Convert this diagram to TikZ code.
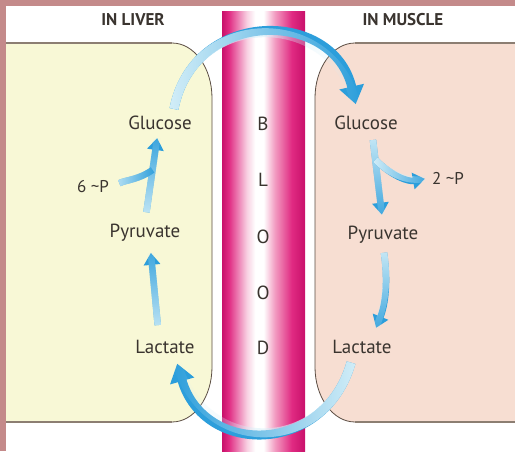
\documentclass[tikz,border=0pt]{standalone}
\usepackage{fontspec}
\setmainfont{PT Sans}
\usepackage{tikz}
\usetikzlibrary{arrows.meta,positioning,fadings,calc}
\definecolor{CoriFrame}{HTML}{C48A8A}
\definecolor{CoriLiver}{HTML}{F8F8D6}
\definecolor{CoriMuscle}{HTML}{F7DED2}
\definecolor{CoriEdge}{HTML}{5B4D43}
\definecolor{CoriRule}{HTML}{8C7E72}
\definecolor{CoriText}{HTML}{3A342F}
\definecolor{CoriDeep}{HTML}{2C9EDB}
\definecolor{CoriPale}{HTML}{D3EEF8}
\definecolor{BloodDark}{HTML}{C8106A}
\definecolor{BloodMag}{HTML}{E02A82}
\definecolor{BloodPink}{HTML}{F29AC0}
\definecolor{BloodLight}{HTML}{F8D0E2}
\pgfdeclarehorizontalshading{bloodshade}{100bp}{color(0bp)=(BloodDark); color(25bp)=(BloodDark); color(29bp)=(BloodMag); color(40bp)=(BloodLight); color(45bp)=(white); color(50bp)=(white); color(57bp)=(BloodPink); color(67bp)=(BloodMag); color(75bp)=(BloodDark); color(100bp)=(BloodDark)}
\tikzfading[name=fadeeast, left color=transparent!0, right color=transparent!100]
\tikzfading[name=fadewest, left color=transparent!100, right color=transparent!0]
\tikzfading[name=fadeup, top color=transparent!100, bottom color=transparent!0]
\tikzfading[name=fadedown, top color=transparent!0, bottom color=transparent!100]

\begin{document}
\begin{tikzpicture}[x=1pt, y=1pt, every node/.style={font=\fontsize{19}{21}\selectfont, text=CoriText, inner sep=2pt}, head/.style={font=\bfseries\fontsize{17}{19}\selectfont}, phos/.style={font=\fontsize{17}{19}\selectfont}, bigflow/.style={line width=9pt, draw=CoriDeep, -{Triangle[width=24pt,length=18pt]}}, flow/.style={line width=6.5pt, draw=CoriDeep, -{Triangle[width=16pt,length=12pt]}}, paletail/.style={postaction={draw=CoriPale, arrows=-, path fading=#1}}]
\useasboundingbox (0,0) rectangle (515,451);
\fill[white] (0,0) rectangle (515,451);
\fill[CoriFrame] (0,445) rectangle (515,451);
\fill[CoriFrame] (0,0) rectangle (6,451);
% the two cells
\fill[CoriLiver] (6,29) -- (6,408) -- (172,408) arc[start angle=90, end angle=0, x radius=40, y radius=55] -- (212,84) arc[start angle=0, end angle=-90, x radius=40, y radius=55] -- cycle;
\fill[CoriMuscle] (515,408) -- (355,408) arc[start angle=90, end angle=180, x radius=40, y radius=55] -- (315,84) arc[start angle=180, end angle=270, x radius=40, y radius=55] -- (515,29) -- cycle;
\draw[CoriEdge, line width=0.8pt] (172,408) arc[start angle=90, end angle=0, x radius=40, y radius=55] -- (212,84) arc[start angle=0, end angle=-90, x radius=40, y radius=55];
\draw[CoriEdge, line width=0.8pt] (355,408) arc[start angle=90, end angle=180, x radius=40, y radius=55] -- (315,84) arc[start angle=180, end angle=270, x radius=40, y radius=55];
\draw[CoriRule, line width=2.5pt] (6,408) -- (172,408) (355,408) -- (515,408);
\draw[CoriRule, line width=2.5pt] (6,29) -- (172,29) (355,29) -- (515,29);
% blood vessel
\shade[shading=bloodshade] (222,0) rectangle (305,439);
\draw[BloodDark, line width=0.8pt] (222,0) -- (222,439);
\node (b1) at (263,327) {B};
\node (b2) at (263,271) {L};
\node (b3) at (263,214) {O};
\node (b4) at (263,158) {O};
\node (b5) at (263,103) {D};
% labels
\node[head] (hliv) at (133,431) {IN LIVER};
\node[head] (hmus) at (403,431) {IN MUSCLE};
\node (lglu) at (160,328) {Glucose};
\node (lpyr) at (145,218) {Pyruvate};
\node (llac) at (165,104) {Lactate};
\node[phos] (lsix) at (93,264) {6 \textasciitilde P};
\node (mglu) at (366,328) {Glucose};
\node (mpyr) at (383,216) {Pyruvate};
\node (mlac) at (362,104) {Lactate};
\node[phos] (mtwo) at (448,273) {2 \textasciitilde P};
\coordinate (lmerge) at ($(lpyr.north)!0.58!([xshift=-2pt]lglu.south)$);
\coordinate (mfork) at ($([xshift=6pt]mglu.south)!0.3!(mpyr.north)$);
% liver pathway
\draw[flow, paletail=fadeup, shorten <=13pt, shorten >=9pt] ([xshift=-6pt]llac.north) -- ([xshift=5pt]lpyr.south);
\draw[flow, paletail=fadeup, shorten <=10pt, shorten >=6pt] (lpyr.north) -- ([xshift=-2pt]lglu.south);
\draw[flow, arrows=-, paletail=fadeeast, shorten <=9pt] (lsix.east) to[out=25, in=215] (lmerge);
% muscle pathway
\draw[flow, paletail=fadedown, shorten <=8pt, shorten >=9.5pt] ([xshift=6pt]mglu.south) -- (mpyr.north);
\draw[flow, paletail=fadeeast, shorten >=5pt] (mfork) to[out=-45, in=190] (mtwo.west);
\draw[flow, paletail=fadedown, shorten <=7pt, shorten >=11pt] (mpyr.south) to[bend left=15] ([xshift=10pt]mlac.north);
% exchange through the blood
\draw[bigflow, paletail=fadeeast, shorten <=5pt, shorten >=10pt] ([xshift=13pt]lglu.north) to[out=79, in=103, looseness=1.5] ([xshift=-8pt]mglu.north);
\draw[bigflow, paletail=fadewest, shorten <=7pt, shorten >=8pt] ([xshift=-9pt]mlac.south) to[out=-106, in=-74, looseness=1.5] ([xshift=10pt]llac.south);
\end{tikzpicture}
\end{document}
